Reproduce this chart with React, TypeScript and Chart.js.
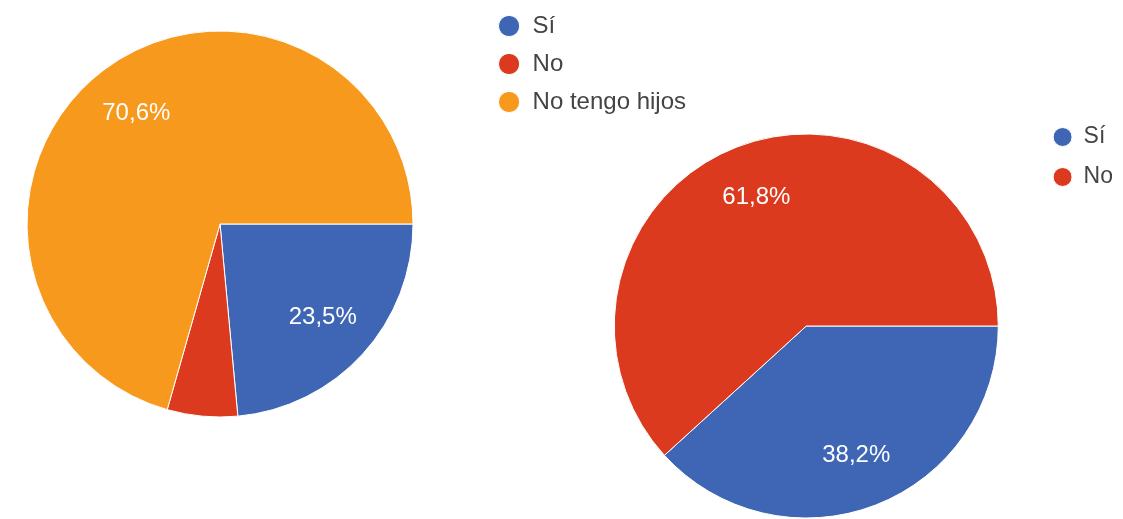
import React, { useEffect, useRef } from 'react';
import { Chart, registerables } from 'chart.js';

Chart.register(...registerables);

// ---- data ----
const leftCategories = ['Sí', 'No', 'No tengo hijos'];
const leftCounts = [8, 2, 24];
const rightCategories = ['Sí', 'No'];
const rightCounts = [13, 21];

const leftColors = ['#3e66b4', '#dc3a1e', '#f6991c'];
const rightColors = ['#3e66b4', '#dc3a1e'];

const FONT = 'Arial, "Liberation Sans", sans-serif';

const pctLabels = {
  id: 'pctLabels',
  afterDatasetsDraw(chart: any) {
    const ctx = chart.ctx;
    const meta = chart.getDatasetMeta(0);
    const values = chart.data.datasets[0].data as number[];
    const total = values.reduce((a, b) => a + b, 0);
    ctx.save();
    ctx.font = `24px ${FONT}`;
    ctx.fillStyle = '#ffffff';
    ctx.textAlign = 'center';
    ctx.textBaseline = 'middle';
    meta.data.forEach((arc: any, i: number) => {
      const share = values[i] / total;
      if (share < 0.08) return;
      const { x, y, startAngle, endAngle, outerRadius } = arc.getProps(
        ['x', 'y', 'startAngle', 'endAngle', 'outerRadius'],
        true
      );
      const mid = (startAngle + endAngle) / 2;
      const d = outerRadius * 0.72;
      const txt = (share * 100).toFixed(1).replace('.', ',') + '%';
      ctx.fillText(txt, x + Math.cos(mid) * d, y + Math.sin(mid) * d);
    });
    ctx.restore();
  },
};

type PieProps = {
  labels: string[];
  values: number[];
  colors: string[];
  box: { left: number; top: number; width: number; height: number };
  padding: { left: number; top: number; right: number; bottom: number };
  legendPadding: number;
  legendFontSize: number;
  boxWidth: number;
  boxHeight: number;
  radius: number;
};

function PieChart(p: PieProps) {
  const ref = useRef<HTMLCanvasElement>(null);
  useEffect(() => {
    if (!ref.current) return;
    const chart = new Chart(ref.current, {
      type: 'pie',
      data: {
        labels: p.labels,
        datasets: [
          {
            data: p.values,
            backgroundColor: p.colors,
            borderColor: '#ffffff',
            borderWidth: 1,
          },
        ],
      },
      options: {
        animation: false,
        responsive: true,
        maintainAspectRatio: false,
        rotation: 90,
        radius: p.radius,
        layout: { padding: p.padding },
        plugins: {
          tooltip: { enabled: false },
          legend: {
            position: 'right',
            align: 'start',
            labels: {
              usePointStyle: true,
              pointStyle: 'circle',
              boxWidth: p.boxWidth,
              boxHeight: p.boxHeight,
              padding: p.legendPadding,
              color: '#444444',
              font: { size: p.legendFontSize, family: FONT },
            },
          },
        },
      } as any,
      plugins: [pctLabels],
    });
    return () => chart.destroy();
  }, []);
  return (
    <div
      style={{
        position: 'absolute',
        left: p.box.left,
        top: p.box.top,
        width: p.box.width,
        height: p.box.height,
      }}
    >
      <canvas ref={ref} />
    </div>
  );
}

export default function App() {
  return (
    <div
      style={{
        position: 'fixed',
        left: 0,
        top: 0,
        width: 1123,
        height: 519,
        overflow: 'hidden',
        background: '#ffffff',
      }}
    >
      <PieChart
        labels={leftCategories}
        values={leftCounts}
        colors={leftColors}
        box={{ left: -60, top: 0, width: 756, height: 519 }}
        padding={{ left: 16.5, top: 0, right: 0, bottom: 71 }}
        legendPadding={14}
        legendFontSize={24}
        boxWidth={23}
        boxHeight={15}
        radius={193}
      />
      <PieChart
        labels={rightCategories}
        values={rightCounts}
        colors={rightColors}
        box={{ left: 560, top: 0, width: 563, height: 560 }}
        padding={{ left: 16.5, top: 108.5, right: 0, bottom: 16.5 }}
        legendPadding={17}
        legendFontSize={23}
        boxWidth={19}
        boxHeight={13.4}
        radius={192}
      />
    </div>
  );
}
